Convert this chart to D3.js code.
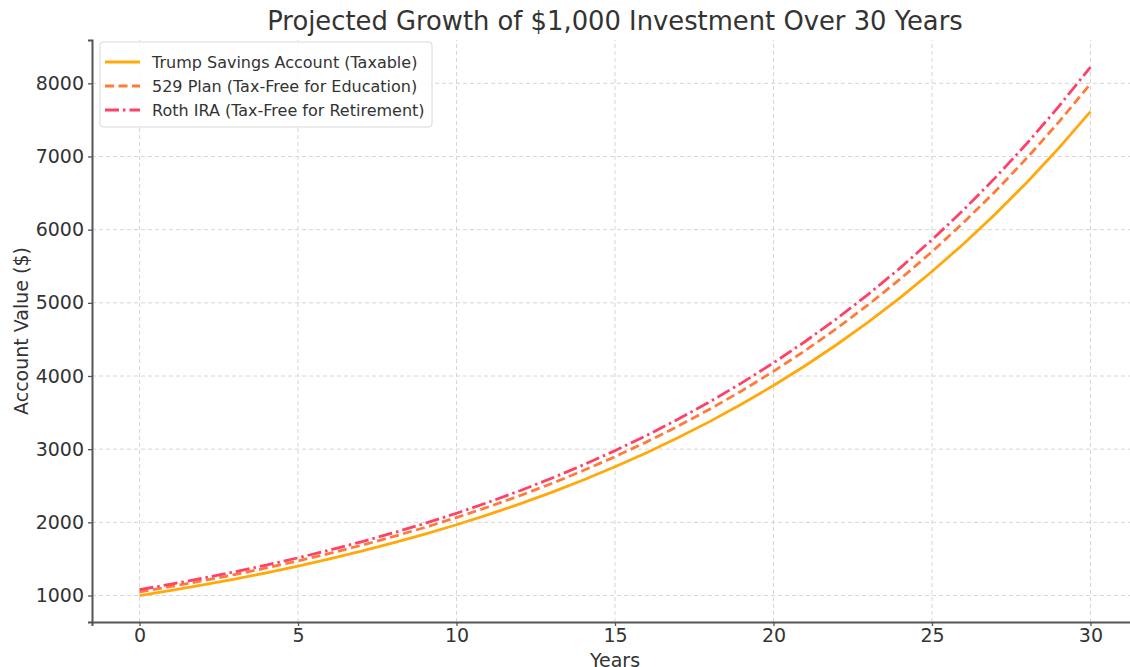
<!DOCTYPE html>
<html>
<head>
<meta charset="utf-8">
<script src="https://cdn.jsdelivr.net/npm/d3@7"></script>
<style>
  html, body { margin: 0; padding: 0; background: #fff; }
  svg { display: block; font-family: "DejaVu Sans", sans-serif; }
</style>
</head>
<body>
<svg id="chart" width="1130" height="667"></svg>
<script>
// Years 0..30
const years = d3.range(0, 31);

// Projected account values ($) by year
const trumpSavings = [1000, 1070, 1144.9, 1225.0, 1310.8, 1402.6, 1500.7, 1605.8, 1718.2, 1838.5,
  1967.2, 2104.9, 2252.2, 2409.8, 2578.5, 2759.0, 2952.2, 3158.8, 3379.9, 3616.5,
  3869.7, 4140.6, 4430.4, 4740.5, 5072.4, 5427.4, 5807.3, 6213.9, 6648.8, 7114.3, 7612.3];
const plan529 = [1050, 1123.5, 1202.1, 1286.3, 1376.3, 1472.7, 1575.8, 1686.1, 1804.1, 1930.4,
  2065.5, 2210.1, 2364.8, 2530.3, 2707.5, 2897.0, 3099.8, 3316.8, 3548.9, 3797.4,
  4063.2, 4347.6, 4651.9, 4977.6, 5326.0, 5698.8, 6097.7, 6524.6, 6981.3, 7470.0, 7992.9];
const rothIRA = [1080, 1155.6, 1236.5, 1323.0, 1415.7, 1514.8, 1620.8, 1734.2, 1855.6, 1985.5,
  2124.5, 2273.2, 2432.4, 2602.6, 2784.8, 2979.8, 3188.3, 3411.5, 3650.3, 3905.9,
  4179.3, 4471.8, 4784.8, 5119.8, 5478.2, 5861.6, 6271.9, 6711.0, 7180.7, 7683.4, 8221.2];

const seriesNames = ["Trump Savings Account (Taxable)", "529 Plan (Tax-Free for Education)", "Roth IRA (Tax-Free for Retirement)"];
const xTicks = [0, 5, 10, 15, 20, 25, 30];
const yTicks = [1000, 2000, 3000, 4000, 5000, 6000, 7000, 8000];

const series = [
  { name: seriesNames[0], values: trumpSavings, color: "#FFA90A", dash: null },
  { name: seriesNames[1], values: plan529, color: "#FF7B3A", dash: "9,4.5" },
  { name: seriesNames[2], values: rothIRA, color: "#FF4068", dash: "14,4,2.5,4" }
];

const svg = d3.select("#chart");
const margin = { left: 92, right: -8, top: 40, bottom: 45 };
const W = 1130, H = 667;

const x = d3.scaleLinear().domain([-1.5, 31.5]).range([margin.left, W - margin.right]);
const y = d3.scaleLinear().domain([638, 8592]).range([H - margin.bottom, margin.top]);

// grid
const grid = svg.append("g");
grid.selectAll("line.vx").data(xTicks).join("line")
  .attr("x1", d => x(d)).attr("x2", d => x(d))
  .attr("y1", y.range()[0]).attr("y2", y.range()[1])
  .attr("stroke", "#d6d6d6").attr("stroke-width", 1).attr("stroke-dasharray", "4,3");
grid.selectAll("line.hy").data(yTicks).join("line")
  .attr("y1", d => y(d)).attr("y2", d => y(d))
  .attr("x1", x.range()[0]).attr("x2", x.range()[1])
  .attr("stroke", "#d6d6d6").attr("stroke-width", 1).attr("stroke-dasharray", "4,3");

// lines
const line = d3.line().x((d, i) => x(years[i])).y(d => y(d));
svg.append("g").selectAll("path").data(series).join("path")
  .attr("d", d => line(d.values))
  .attr("fill", "none")
  .attr("stroke", d => d.color)
  .attr("stroke-width", 2.8)
  .attr("stroke-dasharray", d => d.dash);

// axes
const xAxis = svg.append("g").attr("transform", `translate(0,${y.range()[0]})`)
  .call(d3.axisBottom(x).tickValues(xTicks).tickSize(4).tickPadding(3));
const yAxis = svg.append("g").attr("transform", `translate(${x.range()[0]},0)`)
  .call(d3.axisLeft(y).tickValues(yTicks).tickFormat(d3.format("d")).tickSize(4).tickPadding(4));
[xAxis, yAxis].forEach(a => {
  a.select(".domain").attr("stroke", "#555").attr("stroke-width", 2);
  a.selectAll(".tick line").attr("stroke", "#555").attr("stroke-width", 1.3);
  a.selectAll(".tick text").attr("fill", "#333").attr("font-size", 19)
    .attr("font-family", "DejaVu Sans, sans-serif");
});

// titles
svg.append("text").attr("x", 615).attr("y", 30).attr("text-anchor", "middle")
  .attr("font-size", 25.8).attr("fill", "#333")
  .text("Projected Growth of $1,000 Investment Over 30 Years");
svg.append("text").attr("x", 615).attr("y", 667).attr("text-anchor", "middle")
  .attr("font-size", 19).attr("fill", "#333").text("Years");
svg.append("text").attr("transform", `translate(28,${(y.range()[0] + y.range()[1]) / 2}) rotate(-90)`)
  .attr("text-anchor", "middle").attr("font-size", 19).attr("fill", "#333")
  .text("Account Value ($)");

// legend
const lg = svg.append("g").attr("transform", "translate(100,42)");
lg.append("rect").attr("width", 332).attr("height", 85).attr("rx", 3)
  .attr("fill", "#fff").attr("fill-opacity", 0.85).attr("stroke", "#d8d8d8");
series.forEach((s, i) => {
  const yy = 20 + i * 24;
  lg.append("line").attr("x1", 5).attr("x2", 40).attr("y1", yy).attr("y2", yy)
    .attr("stroke", s.color).attr("stroke-width", 2.8).attr("stroke-dasharray", s.dash);
  lg.append("text").attr("x", 52).attr("y", yy + 5.5).attr("font-size", 16).attr("fill", "#333")
    .text(s.name);
});
</script>
</body>
</html>
